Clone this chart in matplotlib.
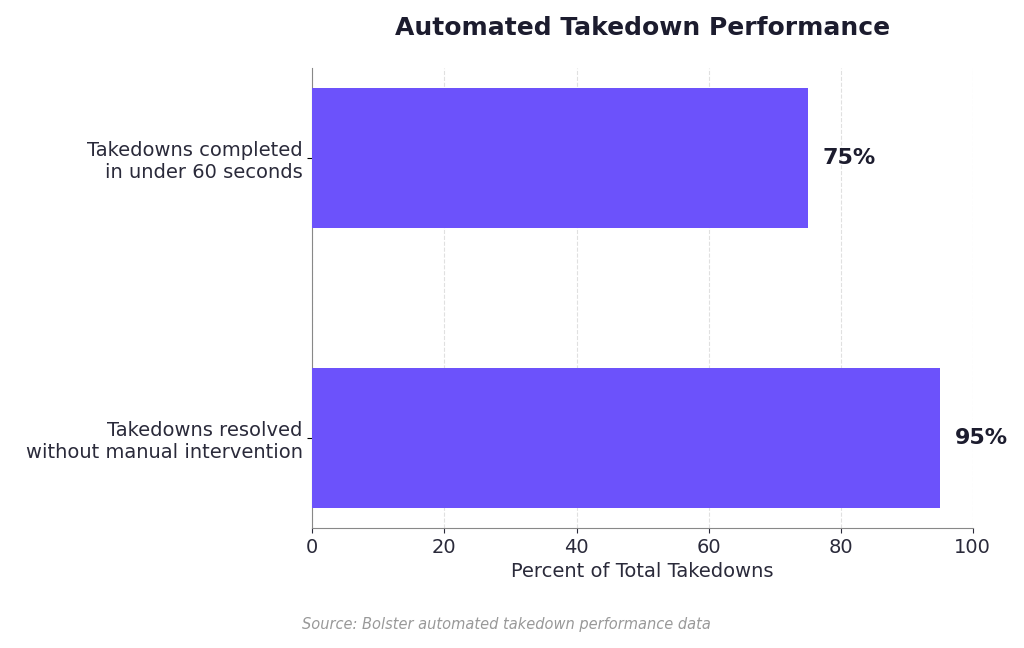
import numpy as np
import matplotlib.pyplot as plt

categories = ['Takedowns resolved\nwithout manual intervention',
              'Takedowns completed\nin under 60 seconds']
values = [95, 75]

fig, ax = plt.subplots(figsize=(10.24, 6.48), dpi=100)
fig.subplots_adjust(left=0.305, right=0.95, top=0.895, bottom=0.185)

y = np.arange(len(categories))
ax.barh(y, values, height=0.5, color='#6c52fb', zorder=3)
for yi, v in zip(y, values):
    ax.text(v + 2.3, yi, f'{v}%', va='center', ha='left',
            fontsize=16, fontweight='bold', color='#1c1c2e')

ax.set_yticks(y)
ax.set_yticklabels(categories, fontsize=14, color='#2a2a3a')
ax.set_xlim(0, 100)
ax.set_ylim(-0.32, 1.32)
ax.tick_params(axis='x', labelsize=14, colors='#2a2a3a')
ax.set_xlabel('Percent of Total Takedowns', fontsize=14, color='#2a2a3a')
ax.set_title('Automated Takedown Performance', fontsize=18,
             fontweight='bold', color='#1c1c2e', pad=24)
ax.grid(axis='x', linestyle='--', color='#e0e0e0', zorder=0)
for s in ['top', 'right']:
    ax.spines[s].set_visible(False)
for s in ['left', 'bottom']:
    ax.spines[s].set_color('#888888')

fig.text(0.495, 0.03, 'Source: Bolster automated takedown performance data',
         ha='center', fontsize=10.5, style='italic', color='#999999')

plt.savefig('out.png')
